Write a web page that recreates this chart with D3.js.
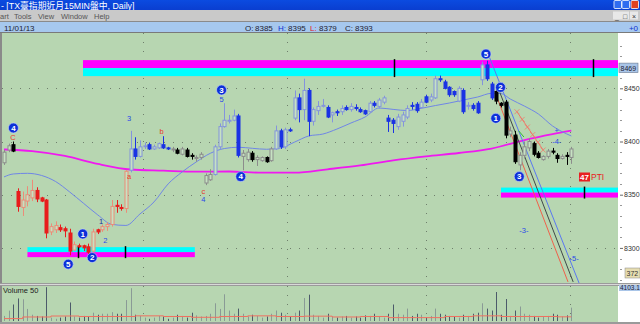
<!DOCTYPE html>
<html>
<head>
<meta charset="utf-8">
<script src="https://cdn.jsdelivr.net/npm/d3@7"></script>
<style>
  body { margin: 0; background: #c8c8c8; }
  svg { display: block; font-family: "Liberation Sans", Arial, "Noto Sans CJK TC", sans-serif; }
</style>
</head>
<body>
<div id="chart"></div>
<script>
// candle data (one entry per bar)
const opens  = [8380,8392,8397,8353,8338,8344,8347,8354,8347,8345,8315,8317,8319,8318,8314,8298,8302,8302,8301,8297,
                8317,8317,8320,8322,8340,8338,8337,8373,8393,8386,8396,8397,8393,8394,8397,8394,8393,8392,8388,8392,
                8387,8385,8385,8361,8364,8369,8395,8414,8420,8420,8424,8386,8383,8389,8383,8382,8385,8382,8393,8410,
                8395,8411,8422,8441,8430,8448,8419,8429,8434,8432,8425,8428,8428,8432,8430,8432,8430,8429,8428,8436,
                8433,8437,8422,8420,8414,8419,8423,8434,8435,8432,8442,8439,8441,8459,8456,8451,8447,8438,8448,8434,
                8434,8436,8458,8472,8454,8447,8436,8437,8407,8406,8378,8387,8394,8398,8389,8383,8386,8391,8387,8384,
                8387,8385];
const highs  = [8392,8398,8400,8356,8353,8358,8364,8357,8348,8346,8323,8325,8322,8320,8318,8306,8304,8303,8304,8318,
                8318,8322,8324,8345,8345,8341,8373,8410,8404,8401,8399,8399,8397,8399,8405,8395,8395,8394,8395,8394,
                8389,8387,8390,8370,8374,8397,8417,8436,8425,8430,8426,8392,8393,8391,8387,8386,8386,8395,8415,8412,
                8413,8413,8448,8445,8459,8450,8432,8438,8440,8434,8428,8430,8434,8434,8436,8435,8432,8430,8438,8438,
                8441,8443,8425,8422,8426,8428,8434,8437,8437,8440,8444,8445,8462,8462,8458,8452,8448,8452,8450,8437,
                8436,8438,8475,8476,8456,8449,8437,8439,8414,8410,8390,8400,8403,8400,8391,8387,8393,8394,8389,8388,
                8390,8395];
const lows   = [8378,8390,8390,8334,8330,8339,8344,8343,8343,8309,8312,8314,8315,8310,8293,8297,8300,8297,8294,8294,
                8313,8315,8316,8320,8333,8335,8333,8371,8383,8385,8393,8392,8392,8393,8393,8392,8390,8388,8387,8385,
                8383,8381,8383,8359,8363,8368,8393,8413,8417,8419,8385,8373,8381,8381,8377,8381,8380,8381,8392,8393,
                8393,8409,8420,8418,8420,8405,8415,8425,8432,8422,8418,8424,8425,8429,8428,8429,8427,8425,8427,8432,
                8431,8435,8409,8408,8411,8414,8421,8430,8427,8431,8436,8437,8440,8456,8449,8442,8442,8437,8426,8430,
                8429,8426,8453,8457,8439,8435,8432,8403,8404,8379,8373,8384,8391,8386,8384,8382,8384,8388,8380,8383,
                8378,8379];
const closes = [8390,8396,8391,8339,8345,8350,8354,8346,8344,8314,8320,8321,8317,8316,8297,8303,8301,8300,8296,8315,
                8315,8320,8322,8339,8339,8337,8372,8393,8386,8395,8396,8393,8395,8398,8394,8393,8393,8389,8393,8386,
                8386,8385,8388,8368,8369,8395,8414,8420,8420,8424,8387,8389,8390,8383,8385,8385,8381,8393,8410,8395,
                8411,8410,8441,8430,8448,8419,8430,8433,8434,8423,8427,8427,8431,8430,8433,8431,8428,8426,8436,8434,
                8439,8441,8419,8417,8423,8425,8431,8433,8429,8437,8437,8442,8459,8458,8450,8444,8444,8450,8428,8434,
                8431,8427,8472,8459,8441,8438,8434,8406,8410,8381,8387,8395,8400,8388,8385,8386,8391,8390,8384,8386,
                8386,8393];
// wave colouring of each bar: n = neutral, r = red wave, b = blue wave
const waveColor = ("nnn" + "r".repeat(24) + "b".repeat(9) + "n".repeat(9) + "b".repeat(6) +
                   "n".repeat(7) + "b".repeat(47) + "n".repeat(17)).split("");
const volumes = [630,1290,2050,2800,2700,1500,780,630,560,4200,
                 420,270,420,560,2300,560,420,630,560,1030,
                 780,900,900,1100,900,900,2600,4075,780,630,
                 420,270,420,630,560,270,420,780,630,420,
                 1030,700,560,630,900,2200,1500,3320,1300,900,
                 1540,900,560,780,630,420,560,900,1300,1030,
                 780,560,1030,1300,2860,3270,780,630,420,900,
                 560,420,560,630,420,560,420,700,630,900,
                 560,420,900,2050,900,780,1540,630,900,780,
                 420,630,1540,900,780,630,560,420,780,630,
                 900,1030,2200,1540,1300,3600,780,2730,630,1300,
                 1800,900,780,630,420,560,630,900,780,560,
                 700,1660];

// moving averages, read at selected bars
const maLongIdx  = [0,6,13,20,27,34,41,48,55,62,69,76,83,90,97,104,111,117,121];
const maLongVal  = [8392.5,8391,8386.4,8378.9,8373.7,8372.6,8371.6,8371.8,8370.7,8370.7,8373.9,8377.5,8382.2,8386,8389.2,8393.4,8401.4,8407,8410.3];
const maShortIdx = [0,2,5,8,11,14,17,20,23,26,29,32,35,38,41,44,47,50,53,56,59,62,65,68,71,74,77,80,83,86,89,92,95,98,101,104,106,108,111,114,117,121];
const maShortVal = [8366.7,8369.5,8370.1,8368.1,8362.4,8352.6,8341.8,8331,8322.1,8321.1,8331.9,8343.2,8360.1,8371.4,8380.8,8388.9,8393.4,8394.6,8393.6,8392.7,
                    8393.9,8399.5,8405.2,8407,8411.7,8417.4,8423,8431.5,8430.2,8429.1,8431.2,8433.8,8436.2,8439,8441.8,8445.3,8445.1,8439.9,8433.3,8425.8,8414.6,8405.2];
const volMaIdx = [0,4,10,16,22,28,34,40,46,52,58,64,70,76,82,88,94,100,106,112,118,121];
const volMaVal = [300,500,620,560,560,640,560,460,560,640,560,600,500,560,420,420,560,640,560,560,520,520];

// price levels (bands), wave labels, texts, trend lines
const bandLevel = [8469, 8352, 8296];
const bandFrom  = [16.85, 106, 5];
const bandTo    = [131, 131, 40.7];
const bandTicks = [[83.2, 125.7], [123.8], [15.85, 25.8]];
const waveNum   = ["4","5","1","2","3","4","5","2","1","3"];
const waveIdx   = [2, 13.7, 16.8, 18.8, 46.4, 50.5, 102.8, 105.9, 104.9, 109.9];
const wavePrice = [8412.7, 8284.7, 8313.1, 8290.9, 8448.4, 8367, 8482.2, 8450.9, 8421.8, 8367];
const noteText  = ["C","3","b","a","1","2","5","c","4","-3-","-5-","-4-","+"];
const noteIdx   = [1.9, 26.7, 33.6, 26.7, 20.7, 21.6, 46.4, 42.5, 42.5, 110.9, 121.6, 117.9, 117.9];
const notePrice = [8403.8, 8421.6, 8409.4, 8366.8, 8324.5, 8307.4, 8440, 8353.5, 8345.2, 8316, 8290, 8400.5, 8410];
const noteKind  = ["r","b","r","r","k","b","b","r","b","b","b","b","b"];
const trendFrom = [[103.2, 8483], [104.95, 8443.7], [105.4, 8450.2], [109.4, 8428], [109.8, 8409.9]];
const trendTo   = [[122.65, 8267], [120.3, 8268], [121.4, 8268], [115.0, 8392], [110.9, 8404.2]];
const trendColor = ["#5a78f0", "#f0604a", "#404848", "#f07868", "#30c030"];
const priceTicks = [8300, 8350, 8400, 8450];
const timeGrid   = [29.7, 60.3, 90, 120.7];

const W = 640, H = 324;
const plot = { left: 2, right: 618, top: 33, bottom: 283 };
const vol = { top: 286, bottom: 322 };
const n = closes.length;

const svg = d3.select("#chart").append("svg")
  .attr("width", W)
  .attr("height", H);

const x = d3.scaleLinear()
  .domain([0, n - 1])
  .range([4, 571.3]);

const y = d3.scaleLinear()
  .domain([8267, 8502])
  .range([plot.bottom, plot.top]);

const yVol = d3.scaleLinear()
  .domain([0, 4100])
  .range([321, 288]);

// ---- window chrome ----
const defs = svg.append("defs");
const grad = defs.append("linearGradient").attr("id", "titleGrad").attr("x1", 0).attr("x2", 0).attr("y1", 0).attr("y2", 1);
grad.append("stop").attr("offset", "0%").attr("stop-color", "#0b4be0");
grad.append("stop").attr("offset", "100%").attr("stop-color", "#0a3ed0");

svg.append("rect").attr("width", W).attr("height", 10).attr("fill", "url(#titleGrad)");
svg.append("text")
  .attr("x", 1).attr("y", 8.5)
  .attr("fill", "white").attr("font-size", 8.8)
  .text("- [TX臺指期近月15MIN盤中, Daily]");
[[614, "#2f6cf0"], [622, "#2f6cf0"], [631, "#e04020"]].forEach(([bx, c]) => {
  svg.append("rect").attr("x", bx).attr("y", 0.5).attr("width", 7.5).attr("height", 8)
    .attr("fill", c).attr("stroke", "white").attr("stroke-width", 0.8).attr("rx", 1);
});

svg.append("rect").attr("y", 10).attr("width", W).attr("height", 12).attr("fill", "#c9c9c9");
const menu = [["art", 0], ["Tools", 14], ["View", 38], ["Window", 61], ["Help", 94]];
menu.forEach(([t, mx]) => {
  svg.append("text").attr("x", mx).attr("y", 19).attr("font-size", 7.5).attr("fill", "#555").text(t);
});
[["_", 614], ["\u25A1", 622], ["\u00D7", 631]].forEach(([t, bx]) => {
  svg.append("rect").attr("x", bx - 1).attr("y", 11.5).attr("width", 8).attr("height", 8).attr("fill", "#e8e8e8");
  svg.append("text").attr("x", bx + 3).attr("y", 18.5).attr("text-anchor", "middle").attr("font-size", 7).attr("fill", "#333").text(t);
});
svg.append("line").attr("x1", 0).attr("x2", W).attr("y1", 21.5).attr("y2", 21.5).attr("stroke", "#8a8a8a");

svg.append("rect").attr("y", 22).attr("width", W).attr("height", 10.5).attr("fill", "#a6c8ee");
svg.append("text").attr("x", 4).attr("y", 30.5).attr("font-size", 8).attr("fill", "#223").text("11/01/13");
const info = [["O: ", "#223", 245], ["8385", "#223", 255], ["H: ", "#1030d0", 278], ["8395", "#223", 288],
              ["L: ", "#e02020", 310], ["8379", "#223", 319], ["C: ", "#223", 345], ["8393", "#223", 355]];
info.forEach(([t, c, ix]) => {
  svg.append("text").attr("x", ix).attr("y", 30.5).attr("font-size", 8).attr("fill", c).text(t);
});
svg.append("text").attr("x", 638).attr("y", 30.5).attr("text-anchor", "end").attr("font-size", 8).attr("fill", "#1030d0").text("+0");
svg.append("line").attr("x1", 0).attr("x2", W).attr("y1", 32.5).attr("y2", 32.5).attr("stroke", "#7a7a7a");

// ---- price pane ----
svg.append("rect").attr("x", 0).attr("y", 33).attr("width", 2).attr("height", 291).attr("fill", "#8a8a8a");
svg.append("rect")
  .attr("x", plot.left).attr("y", plot.top)
  .attr("width", plot.right - plot.left).attr("height", plot.bottom - plot.top)
  .attr("fill", "#b7d6b1");
svg.append("rect")
  .attr("x", plot.right).attr("y", plot.top)
  .attr("width", W - plot.right).attr("height", plot.bottom - plot.top)
  .attr("fill", "white");

// dotted grid
svg.append("g").selectAll("line")
  .data(priceTicks)
  .join("line")
  .attr("x1", plot.left).attr("x2", plot.right)
  .attr("y1", d => Math.round(y(d)) + 0.5).attr("y2", d => Math.round(y(d)) + 0.5)
  .attr("stroke", "#6f7f6c").attr("stroke-dasharray", "1,8");
svg.append("g").selectAll("line")
  .data(timeGrid)
  .join("line")
  .attr("x1", d => Math.round(x(d)) + 0.5).attr("x2", d => Math.round(x(d)) + 0.5)
  .attr("y1", plot.top).attr("y2", plot.bottom)
  .attr("stroke", "#6f7f6c").attr("stroke-dasharray", "1,8");

// bands
const bandG = svg.append("g");
bandLevel.forEach((lvl, k) => {
  const x0 = x(bandFrom[k]), x1 = Math.min(x(bandTo[k]), plot.right);
  const thick = k === 0 ? 8 : 5;
  const upper = k === 0 ? "#ff00ff" : "#00ffff";
  const lower = k === 0 ? "#00ffff" : "#ff00ff";
  bandG.append("rect").attr("x", x0).attr("y", y(lvl) - thick).attr("width", x1 - x0).attr("height", thick).attr("fill", upper);
  bandG.append("rect").attr("x", x0).attr("y", y(lvl)).attr("width", x1 - x0).attr("height", thick).attr("fill", lower);
  bandTicks[k].forEach(t => {
    bandG.append("line")
      .attr("x1", Math.round(x(t)) + 0.5).attr("x2", Math.round(x(t)) + 0.5)
      .attr("y1", y(lvl) - thick - 1).attr("y2", y(lvl) + thick + 1)
      .attr("stroke", "black").attr("stroke-width", 1.5);
  });
});

// moving averages
const lineGen = d3.line().x(d => x(d[0])).y(d => y(d[1])).curve(d3.curveMonotoneX);
svg.append("path")
  .datum(maLongIdx.map((d, k) => [d, maLongVal[k]]))
  .attr("d", lineGen)
  .attr("fill", "none").attr("stroke", "#f018f0").attr("stroke-width", 1.8);
svg.append("path")
  .datum(maShortIdx.map((d, k) => [d, maShortVal[k]]))
  .attr("d", lineGen)
  .attr("fill", "none").attr("stroke", "#6f86e6").attr("stroke-width", 1);

// trend lines
trendFrom.forEach((p, k) => {
  svg.append("line")
    .attr("x1", x(p[0])).attr("y1", y(p[1]))
    .attr("x2", x(trendTo[k][0])).attr("y2", y(trendTo[k][1]))
    .attr("stroke", trendColor[k]).attr("stroke-width", 1);
});
// x marks along the short red channel line
const ladder = d3.range(0, 1.01, 0.2).map(t => [
  x(trendFrom[3][0] + t * (trendTo[3][0] - trendFrom[3][0])),
  y(trendFrom[3][1] + t * (trendTo[3][1] - trendFrom[3][1]))
]);
svg.append("g").selectAll("path")
  .data(ladder)
  .join("path")
  .attr("d", d => `M${d[0] - 2.5},${d[1] - 2.5}L${d[0] + 2.5},${d[1] + 2.5}M${d[0] - 2.5},${d[1] + 2.5}L${d[0] + 2.5},${d[1] - 2.5}`)
  .attr("stroke", "#f07868").attr("stroke-width", 0.8);

// candles
const candleStyle = {
  n: { up: "#8c8c8c", down: "#000000" },
  r: { up: "#ec8c78", down: "#e81c1c" },
  b: { up: "#8494dc", down: "#1a32e4" }
};
const bars = d3.range(n).map(i => ({ i, o: opens[i], h: highs[i], l: lows[i], c: closes[i], g: waveColor[i] }));
const candles = svg.append("g").selectAll("g")
  .data(bars)
  .join("g");
candles.append("line")
  .attr("x1", d => Math.round(x(d.i)) + 0.5).attr("x2", d => Math.round(x(d.i)) + 0.5)
  .attr("y1", d => y(d.h)).attr("y2", d => y(d.l))
  .attr("stroke", d => d.c >= d.o ? candleStyle[d.g].up : candleStyle[d.g].down);
candles.append("rect")
  .attr("x", d => Math.round(x(d.i)) - 1)
  .attr("y", d => y(Math.max(d.o, d.c)))
  .attr("width", 3)
  .attr("height", d => Math.max(1, Math.abs(y(d.o) - y(d.c))))
  .attr("fill", d => d.c >= d.o ? "#c6e2c2" : candleStyle[d.g].down)
  .attr("stroke", d => d.c >= d.o ? candleStyle[d.g].up : candleStyle[d.g].down)
  .attr("stroke-width", 1);

// wave circles
const waves = svg.append("g").selectAll("g")
  .data(waveNum.map((t, k) => ({ t, i: waveIdx[k], p: wavePrice[k] })))
  .join("g")
  .attr("transform", d => `translate(${x(d.i)},${y(d.p)})`);
waves.append("circle").attr("r", 5).attr("fill", "#0c30d8").attr("stroke", "#c8d4ff").attr("stroke-width", 0.6);
waves.append("text")
  .attr("text-anchor", "middle").attr("dy", "0.35em")
  .attr("font-size", 8).attr("font-weight", "bold").attr("fill", "white")
  .text(d => d.t);

// small wave notes
const noteColor = { r: "#e83a2a", b: "#2a48e8", k: "#1a2a9a" };
svg.append("g").selectAll("text")
  .data(noteText.map((t, k) => ({ t, i: noteIdx[k], p: notePrice[k], c: noteKind[k] })))
  .join("text")
  .attr("x", d => x(d.i)).attr("y", d => y(d.p))
  .attr("text-anchor", "middle").attr("dy", "0.35em")
  .attr("font-size", 7.5).attr("fill", d => noteColor[d.c])
  .text(d => d.t);

// PTI marker
svg.append("rect").attr("x", 579).attr("y", 172.5).attr("width", 11).attr("height", 9).attr("fill", "#e82020");
svg.append("text").attr("x", 584.5).attr("y", 180).attr("text-anchor", "middle").attr("font-size", 8).attr("font-weight", "bold").attr("fill", "white").text("47");
svg.append("text").attr("x", 591).attr("y", 180).attr("font-size", 8.5).attr("fill", "#e82020").text("PTI");

// right price axis
const yAxis = d3.axisRight(y).tickValues(priceTicks).tickSize(3).tickPadding(1).tickFormat(d3.format("d"));
const yAxisGroup = svg.append("g")
  .attr("transform", `translate(${plot.right + 2},0)`)
  .call(yAxis);
yAxisGroup.select(".domain").remove();
yAxisGroup.selectAll("text").attr("font-size", 7).attr("fill", "#333").attr("font-family", "Liberation Sans, Arial");
yAxisGroup.selectAll("line").attr("stroke", "#666");
svg.append("g").selectAll("line")
  .data(d3.range(8270, 8500, 10).filter(v => v % 50 !== 0))
  .join("line")
  .attr("x1", plot.right + 2).attr("x2", plot.right + 4)
  .attr("y1", d => Math.round(y(d)) + 0.5).attr("y2", d => Math.round(y(d)) + 0.5)
  .attr("stroke", "#999");
svg.append("rect").attr("x", plot.right + 1).attr("y", y(bandLevel[0]) - 5).attr("width", 19).attr("height", 9.5)
  .attr("fill", "#a9c5e8").attr("stroke", "#6a7a90").attr("stroke-width", 0.6);
svg.append("text").attr("x", plot.right + 2.5).attr("y", y(bandLevel[0]) + 2.5).attr("font-size", 7).attr("fill", "#223").text(bandLevel[0]);
svg.append("rect").attr("x", 625).attr("y", 268).attr("width", 15).attr("height", 10).attr("fill", "#e6ddb0").attr("stroke", "#888").attr("stroke-width", 0.5);
svg.append("text").attr("x", 626.5).attr("y", 275.5).attr("font-size", 7).attr("fill", "#333").text("372");

// ---- separator & volume pane ----
svg.append("rect").attr("x", 0).attr("y", plot.bottom).attr("width", W).attr("height", 3).attr("fill", "#9a9a9a");
svg.append("line").attr("x1", 0).attr("x2", W).attr("y1", plot.bottom + 1.5).attr("y2", plot.bottom + 1.5).attr("stroke", "#d8d8d8");
svg.append("rect").attr("x", plot.left).attr("y", vol.top).attr("width", plot.right - plot.left).attr("height", vol.bottom - vol.top).attr("fill", "#b7d6b1");
svg.append("rect").attr("x", plot.right).attr("y", vol.top).attr("width", W - plot.right).attr("height", vol.bottom - vol.top).attr("fill", "white");
svg.append("rect").attr("x", plot.right + 1).attr("y", vol.top - 1).attr("width", 21).attr("height", 6).attr("fill", "#a9c5e8");
svg.append("text").attr("x", plot.right + 2).attr("y", vol.top + 4).attr("font-size", 6.5).attr("fill", "#223").text("4103.1");
svg.append("g").selectAll("line")
  .data(timeGrid)
  .join("line")
  .attr("x1", d => Math.round(x(d)) + 0.5).attr("x2", d => Math.round(x(d)) + 0.5)
  .attr("y1", vol.top).attr("y2", vol.bottom)
  .attr("stroke", "#6f7f6c").attr("stroke-dasharray", "1,8");

svg.append("g").selectAll("line")
  .data(volumes)
  .join("line")
  .attr("x1", (d, i) => Math.round(x(i)) + 0.5).attr("x2", (d, i) => Math.round(x(i)) + 0.5)
  .attr("y1", yVol(0)).attr("y2", d => Math.max(vol.top + 1, yVol(d)))
  .attr("stroke", (d, i) => closes[i] >= opens[i] ? "#8a9a96" : "#4c5a6a").attr("stroke-width", 1);
svg.append("path")
  .datum(volMaIdx.map((d, k) => [d, volMaVal[k]]))
  .attr("d", d3.line().x(d => x(d[0])).y(d => yVol(d[1])).curve(d3.curveStepAfter))
  .attr("fill", "none").attr("stroke", "#f07060").attr("stroke-width", 1);
svg.append("text").attr("x", 3).attr("y", 293).attr("font-size", 7.5).attr("fill", "#222").text("Volume 50");

svg.append("rect").attr("x", 0).attr("y", vol.bottom).attr("width", W).attr("height", H - vol.bottom).attr("fill", "#9a9a9a");
</script>
</body>
</html>
